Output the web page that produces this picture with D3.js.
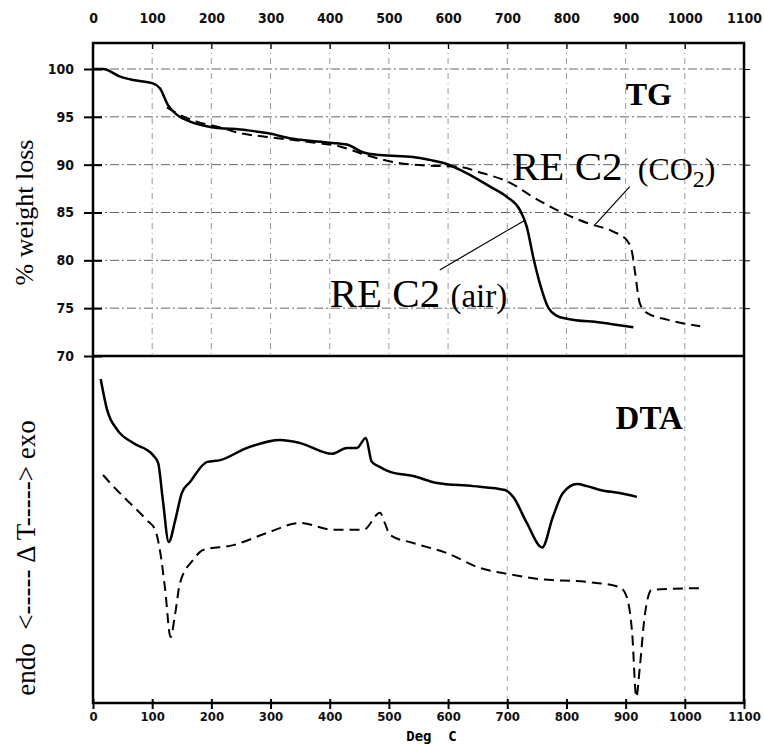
<!DOCTYPE html>
<html>
<head>
<meta charset="utf-8">
<script src="https://cdn.jsdelivr.net/npm/d3@7"></script>
<style>
  body { margin: 0; background: #fff; }
  .tick text { font-family: "DejaVu Sans Condensed", "Liberation Sans Narrow", "Liberation Sans", sans-serif; font-weight: bold; font-size: 14px; fill: #111; }
</style>
</head>
<body>
<svg id="chart" width="764" height="746"></svg>
<script>
// temperatures (deg C) and values
const tempTicks = [0, 100, 200, 300, 400, 500, 600, 700, 800, 900, 1000, 1100]
const tgTicks = [70, 75, 80, 85, 90, 95, 100]

const tgTempAir = [0, 17, 46, 68, 101, 113, 127, 142, 164, 194, 260, 294, 338, 400, 429, 456, 485, 541, 569, 591, 632, 671, 700, 721, 733, 744, 755, 769, 784, 801, 857, 913]
const tgAir = [100, 100, 99.2, 98.85, 98.5, 98.0, 96.2, 95.2, 94.5, 94.0, 93.6, 93.3, 92.7, 92.3, 92.1, 91.3, 91.0, 90.8, 90.5, 90.2, 89.1, 87.7, 86.6, 85.3, 83.5, 80.3, 77.6, 75.1, 74.2, 73.9, 73.5, 73.0]

const tgTempCO2 = [125, 147, 175, 215, 248, 294, 362, 417, 462, 514, 564, 615, 659, 705, 744, 789, 835, 879, 902, 911, 916, 924, 936, 970, 1026]
const tgCO2 = [96.0, 95.2, 94.5, 93.9, 93.3, 92.9, 92.4, 91.9, 91.0, 90.2, 89.9, 89.8, 89.1, 88.1, 86.6, 85.1, 83.9, 83.0, 82.1, 80.8, 78.7, 75.5, 74.5, 73.8, 73.1]

// DTA signal, arbitrary units (no scale on the original)
const dtaTempAir = [13, 24, 41, 68, 101, 110, 118, 128, 139, 150, 164, 193, 215, 260, 316, 350, 404, 429, 446, 461, 471, 485, 502, 541, 581, 642, 696, 710, 733, 759, 777, 794, 818, 835, 857, 890, 919]
const dtaAir = [93.4, 84.4, 78.7, 74.9, 71.5, 69.2, 58.5, 46.4, 52.7, 60.5, 63.7, 69.5, 70.0, 73.5, 75.8, 74.9, 71.8, 73.5, 73.5, 76.4, 69.5, 68.0, 66.6, 65.4, 63.4, 62.5, 61.4, 59.4, 51.9, 44.8, 53.6, 60.5, 63.1, 62.5, 61.4, 60.5, 59.4]

const dtaTempCO2 = [17, 29, 57, 91, 105, 113, 122, 131, 139, 147, 169, 186, 237, 294, 350, 406, 457, 485, 493, 502, 541, 598, 654, 700, 755, 835, 890, 902, 911, 918, 924, 932, 944, 980, 1026]
const dtaCO2 = [65.7, 63.4, 58.5, 52.7, 49.9, 44.1, 32.6, 19.0, 25.9, 34.6, 41.2, 44.1, 45.5, 49.0, 51.9, 49.9, 49.9, 54.8, 51.9, 48.4, 46.1, 43.2, 38.9, 37.2, 35.7, 34.9, 33.4, 30.5, 20.2, 1.7, 10.4, 24.8, 32.6, 32.9, 33.1]

const dtaGridTemps = [700, 1000]

const svg = d3.select('#chart')

const x = d3.scaleLinear().domain([0, 1100]).range([93, 744])
const yTG = d3.scaleLinear().domain([70, 100]).range([356, 69])
const yDTA = d3.scaleLinear().domain([0, 100]).range([703, 356])
const frameTop = 43, frameBottom = 703
const fmt = d3.format('d')

const zip = (a, b) => a.map((t, i) => [t, b[i]])

// grid, TG panel
const grid = svg.append('g').attr('stroke', '#666').attr('stroke-width', 1).attr('fill', 'none')
grid.selectAll('.gh').data(tgTicks.filter(d => d > 70))
    .enter().append('line')
        .attr('x1', x(0)).attr('x2', x(1100))
        .attr('y1', d => yTG(d)).attr('y2', d => yTG(d))
        .attr('stroke-dasharray', '9,3,2,3')
grid.selectAll('.gv').data(tempTicks.filter(d => d > 0 && d < 1100))
    .enter().append('line')
        .attr('x1', d => x(d)).attr('x2', d => x(d))
        .attr('y1', frameTop).attr('y2', yTG(70))
        .attr('stroke', '#999')
        .attr('stroke-dasharray', '6,4,1,4')
grid.selectAll('.gd').data(dtaGridTemps)
    .enter().append('line')
        .attr('x1', d => x(d)).attr('x2', d => x(d))
        .attr('y1', yTG(70)).attr('y2', frameBottom)
        .attr('stroke', '#aaa')
        .attr('stroke-dasharray', '5,5')

// axes
const topAxis = svg.append('g').attr('transform', `translate(0,${frameTop})`)
    .call(d3.axisTop(x).tickValues(tempTicks).tickFormat(fmt).tickSize(-6).tickPadding(20))
topAxis.select('.domain').remove()
topAxis.selectAll('.tick line').attr('stroke-width', 1.2)

const bottomAxis = svg.append('g').attr('transform', `translate(0,${frameBottom})`)
    .call(d3.axisBottom(x).tickValues(tempTicks).tickFormat(fmt).tickSize(6).tickPadding(3))
bottomAxis.select('.domain').remove()
bottomAxis.selectAll('.tick line').attr('y1', -4).attr('stroke-width', 2)
bottomAxis.selectAll('.tick text').style('font-size', '13px')

const leftAxis = svg.append('g').attr('transform', `translate(${x(0)},0)`)
    .call(d3.axisLeft(yTG).tickValues(tgTicks).tickFormat(fmt).tickSize(9).tickPadding(10))
leftAxis.select('.domain').remove()
leftAxis.selectAll('.tick line').attr('x1', 9).attr('stroke-width', 2)

const rightAxis = svg.append('g').attr('transform', `translate(${x(1100)},0)`)
    .call(d3.axisRight(yTG).tickValues(tgTicks.filter(d => d > 70)).tickSize(6).tickFormat(''))
rightAxis.select('.domain').remove()

// frame and panel divider
svg.append('rect')
    .attr('x', x(0)).attr('y', frameTop)
    .attr('width', x(1100) - x(0)).attr('height', frameBottom - frameTop)
    .attr('fill', 'none').attr('stroke', '#000').attr('stroke-width', 2.5)
svg.append('line')
    .attr('x1', x(0)).attr('x2', x(1100))
    .attr('y1', yTG(70)).attr('y2', yTG(70))
    .attr('stroke', '#000').attr('stroke-width', 2.5)

// curves
const lineTG = d3.line().x(d => x(d[0])).y(d => yTG(d[1])).curve(d3.curveMonotoneX)
const lineDTA = d3.line().x(d => x(d[0])).y(d => yDTA(d[1])).curve(d3.curveMonotoneX)

const curves = svg.append('g').attr('fill', 'none').attr('stroke', '#000').attr('stroke-linejoin', 'round')
curves.append('path').attr('d', lineTG(zip(tgTempCO2, tgCO2)))
    .attr('stroke-width', 2).attr('stroke-dasharray', '10,6')
curves.append('path').attr('d', lineTG(zip(tgTempAir, tgAir)))
    .attr('stroke-width', 2.5)
curves.append('path').attr('d', lineDTA(zip(dtaTempCO2, dtaCO2)))
    .attr('stroke-width', 2).attr('stroke-dasharray', '10,6')
curves.append('path').attr('d', lineDTA(zip(dtaTempAir, dtaAir)))
    .attr('stroke-width', 2.5)

// labels
const serif = '"Liberation Serif", "Times New Roman", serif'

svg.append('text').attr('x', x(900)).attr('y', yTG(96.2))
    .attr('font-family', serif).attr('font-weight', 'bold').attr('font-size', 32)
    .text('TG')
svg.append('text').attr('x', x(883)).attr('y', yDTA(79))
    .attr('font-family', serif).attr('font-weight', 'bold').attr('font-size', 33)
    .text('DTA')

const co2Label = svg.append('text').attr('x', x(708)).attr('y', yTG(88.4))
    .attr('font-family', serif).attr('font-size', 41)
co2Label.append('tspan').text('RE C2 ')
co2Label.append('tspan').attr('font-size', 32).attr('dx', 5).text('(CO')
co2Label.append('tspan').attr('font-size', 24).attr('dy', 7).text('2')
co2Label.append('tspan').attr('font-size', 32).attr('dy', -7).text(')')

const airLabel = svg.append('text').attr('x', x(400)).attr('y', yTG(75.1))
    .attr('font-family', serif).attr('font-size', 41)
airLabel.append('tspan').text('RE C2 ')
airLabel.append('tspan').attr('font-size', 33).text('(air)')

// leader lines
svg.append('line')
    .attr('x1', x(907)).attr('y1', yTG(87.7)).attr('x2', x(848)).attr('y2', yTG(83.7))
    .attr('stroke', '#000').attr('stroke-width', 1.2)
svg.append('line')
    .attr('x1', x(586)).attr('y1', yTG(79.0)).attr('x2', x(730)).attr('y2', yTG(84.2))
    .attr('stroke', '#000').attr('stroke-width', 1.2)

// axis titles
svg.append('text')
    .attr('transform', `translate(33,${yTG(85)}) rotate(-90)`)
    .attr('text-anchor', 'middle')
    .attr('font-family', serif).attr('font-size', 26)
    .text('% weight loss')
svg.append('text')
    .attr('transform', `translate(35,558) rotate(-90)`)
    .attr('text-anchor', 'middle')
    .attr('font-family', serif).attr('font-size', 27)
    .attr('xml:space', 'preserve')
    .text('endo  <----- Δ T-----> exo')
svg.append('text')
    .attr('x', x(572)).attr('y', 741)
    .attr('text-anchor', 'middle')
    .attr('font-family', '"DejaVu Sans Mono", monospace').attr('font-size', 14).attr('font-weight', 'bold')
    .attr('xml:space', 'preserve')
    .text('Deg  C')
</script>
</body>
</html>
